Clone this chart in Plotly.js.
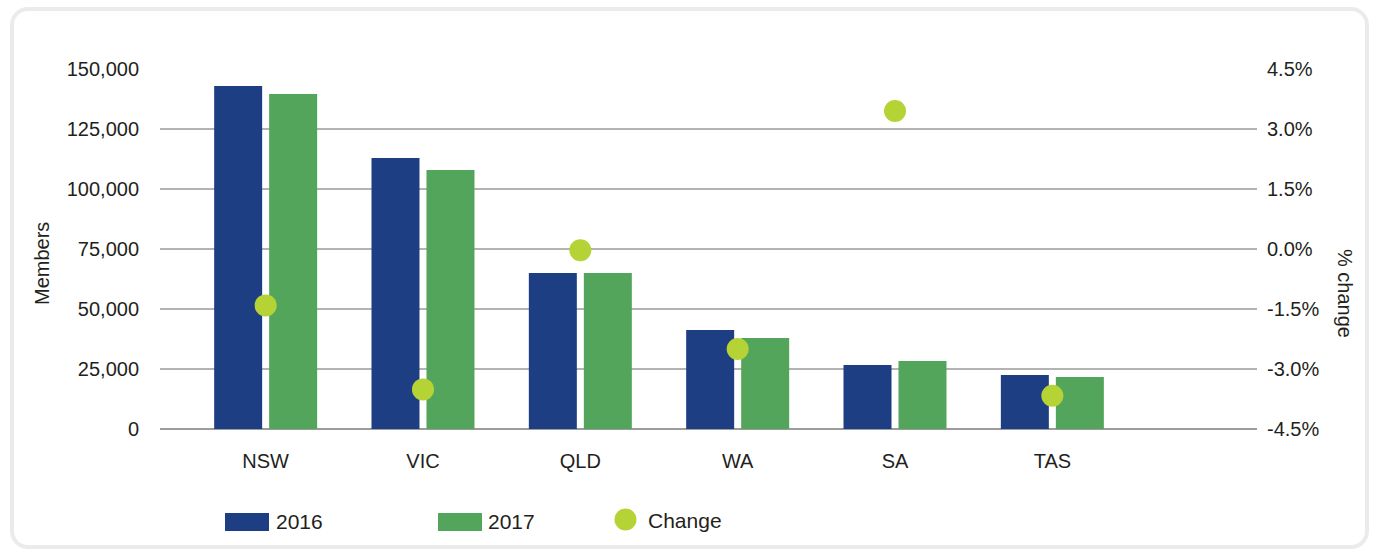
<!DOCTYPE html>
<html>
<head>
<meta charset="utf-8">
<script src="https://cdn.plot.ly/plotly-3.0.1.min.js"></script>
<style>
  html, body { margin: 0; padding: 0; background: #ffffff; overflow: hidden; }
  #chart { position: absolute; left: 0; top: 0; width: 1373px; height: 550px; }
  #frame { position: absolute; left: 10px; top: 7px; width: 1359px; height: 542px; box-sizing: border-box;
           border: 4px solid #ebebeb; border-radius: 18px; pointer-events: none; }
</style>
</head>
<body>
<div id="chart"></div>
<div id="frame"></div>
<script>
const categories = ['NSW', 'VIC', 'QLD', 'WA', 'SA', 'TAS'];
const members2016 = [142900, 112900, 65000, 41300, 26700, 22500];
const members2017 = [139600, 107900, 65000, 37900, 28300, 21700];
const pctChange = [-1.41, -3.51, -0.03, -2.5, 3.45, -3.67];
const seriesNames = ['2016', '2017', 'Change'];
const rightTickVals = [-4.5, -3.0, -1.5, 0, 1.5, 3.0, 4.5];
const rightTickText = ['-4.5%', '-3.0%', '-1.5%', '0.0%', '1.5%', '3.0%', '4.5%'];

const BLUE = '#1e3e83';
const GREEN = '#53a55c';
const LIME = '#b5d334';
const FONT = '"Liberation Sans", Arial, Helvetica, sans-serif';
const TEXT = '#231f20';

const traces = [
  { type: 'bar', name: seriesNames[0], x: categories, y: members2016, marker: { color: BLUE }, yaxis: 'y', hoverinfo: 'x+y' },
  { type: 'bar', name: seriesNames[1], x: categories, y: members2017, marker: { color: GREEN }, yaxis: 'y', hoverinfo: 'x+y' },
  { type: 'scatter', mode: 'markers', name: seriesNames[2], x: categories, y: pctChange, yaxis: 'y2',
    marker: { color: LIME, size: 22 }, cliponaxis: false }
];

const layout = {
  width: 1373, height: 550,
  margin: { l: 160, r: 116, t: 69, b: 121 },
  paper_bgcolor: '#ffffff', plot_bgcolor: '#ffffff',
  font: { family: FONT, size: 20, color: TEXT },
  showlegend: false,
  barmode: 'group', bargap: 0.3009, bargroupgap: 0.1273,
  xaxis: {
    type: 'category', range: [-0.6715, 6.3007],
    showgrid: false, showline: false, zeroline: false, ticks: '',
    ticklabelstandoff: 18,
    tickfont: { family: FONT, size: 20, color: TEXT }
  },
  yaxis: {
    range: [0, 150000], dtick: 25000, tick0: 0, tickformat: ',',
    showgrid: true, gridcolor: '#b3b3b3', gridwidth: 1.5,
    zeroline: true, zerolinecolor: '#9c9c9c', zerolinewidth: 1.5,
    showline: false, ticks: '', ticklabelstandoff: 20,
    tickfont: { family: FONT, size: 20, color: TEXT }
  },
  yaxis2: {
    overlaying: 'y', side: 'right', range: [-4.5, 4.5],
    tickvals: rightTickVals, ticktext: rightTickText,
    showgrid: false, zeroline: false, showline: false, ticks: '', ticklabelstandoff: 9,
    tickfont: { family: FONT, size: 20, color: TEXT }
  },
  annotations: [
    { text: 'Members', xref: 'paper', yref: 'paper', x: -0.1076, y: 0.461, textangle: -90,
      showarrow: false, xanchor: 'center', yanchor: 'middle', font: { family: FONT, size: 20, color: TEXT } },
    { text: '% change', xref: 'paper', yref: 'paper', x: 1.0802, y: 0.375, textangle: 90,
      showarrow: false, xanchor: 'center', yanchor: 'middle', font: { family: FONT, size: 20, color: TEXT } },
    { text: seriesNames[0], xref: 'paper', yref: 'paper', x: 0.1040, y: -0.2583,
      showarrow: false, xanchor: 'left', yanchor: 'middle', font: { family: FONT, size: 21, color: TEXT } },
    { text: seriesNames[1], xref: 'paper', yref: 'paper', x: 0.2972, y: -0.2583,
      showarrow: false, xanchor: 'left', yanchor: 'middle', font: { family: FONT, size: 21, color: TEXT } },
    { text: seriesNames[2], xref: 'paper', yref: 'paper', x: 0.4430, y: -0.2528,
      showarrow: false, xanchor: 'left', yanchor: 'middle', font: { family: FONT, size: 21, color: TEXT } }
  ],
  shapes: [
    { type: 'rect', xref: 'paper', yref: 'paper', x0: 0.05925, x1: 0.09936, y0: -0.23333, y1: -0.28333,
      fillcolor: BLUE, line: { width: 0 } },
    { type: 'rect', xref: 'paper', yref: 'paper', x0: 0.25342, x1: 0.29353, y0: -0.23333, y1: -0.28333,
      fillcolor: GREEN, line: { width: 0 } },
    { type: 'circle', xref: 'paper', yref: 'paper', x0: 0.41431, x1: 0.43437, y0: -0.22083, y1: -0.28194,
      fillcolor: LIME, line: { width: 0 } }
  ]
};

Plotly.newPlot('chart', traces, layout, { displayModeBar: false, staticPlot: true });
</script>
</body>
</html>
